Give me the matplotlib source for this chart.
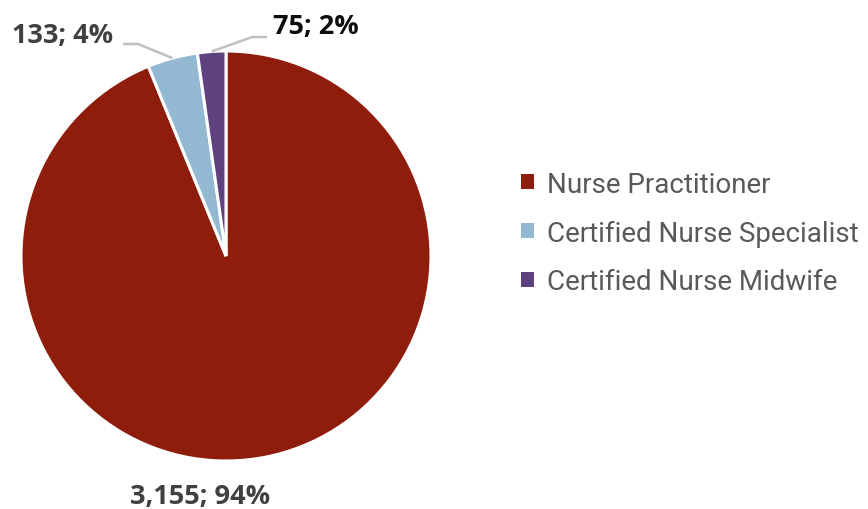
import matplotlib.pyplot as plt
import numpy as np

## Data
categories = ['Nurse Practitioner', 'Certified Nurse Specialist', 'Certified Nurse Midwife']
counts = [3155, 133, 75]
colors = ['#8F1D0C', '#92B8D2', '#5E4280']

fig = plt.figure(figsize=(8.68, 5.10), dpi=100)
# pie centre ~(226,253) px, radius ~204 px
ax = fig.add_axes([21 / 868, 48 / 510, 410 / 868, 410 / 510])

wedges, _ = ax.pie(counts, colors=colors, startangle=90, counterclock=False,
                   radius=1, wedgeprops=dict(edgecolor='white', linewidth=2.2))
ax.set_xlim(-1, 1)
ax.set_ylim(-1, 1)
ax.set_aspect('equal')
ax.axis('off')

total = sum(counts)
labels = [f'{c:,}; {round(c / total * 100):.0f}%' for c in counts]

lfont = dict(family='Open Sans', fontweight='bold', fontsize=19.5)
line_kw = dict(color='#BFBFBF', lw=1.8, solid_capstyle='butt', clip_on=False)

# big slice: label under the pie
ax.text(-0.127, -1.172, labels[0], ha='center', va='center', color='#404040',
        clip_on=False, **lfont)

mids = [np.deg2rad((w.theta1 + w.theta2) / 2) for w in wedges]

# Certified Nurse Specialist: label up-left with elbow leader
a = mids[1]
ax.plot([np.cos(a), -0.429, -0.502], [np.sin(a), 1.034, 1.034], **line_kw)
ax.text(-0.551, 1.078, labels[1], ha='right', va='center', color='#404040',
        clip_on=False, **lfont)

# Certified Nurse Midwife: label up-right with elbow leader
a = mids[2]
ax.plot([np.cos(a), 0.127, 0.200], [np.sin(a), 1.068, 1.068], **line_kw)
ax.text(0.229, 1.12, labels[2], ha='left', va='center', color='#0D0D0D',
        clip_on=False, **lfont)

leg = fig.legend(wedges, categories, loc='center left',
                 bbox_to_anchor=(521 / 868, 1 - 234 / 510), frameon=False,
                 prop=dict(family='Roboto', size=20), labelcolor='#595959',
                 handlelength=0.45, handleheight=0.45, handletextpad=0.5,
                 labelspacing=0.78, borderpad=0, borderaxespad=0)
for h in leg.legend_handles:
    h.set_edgecolor('none')

fig.savefig('out.png', dpi=100)
